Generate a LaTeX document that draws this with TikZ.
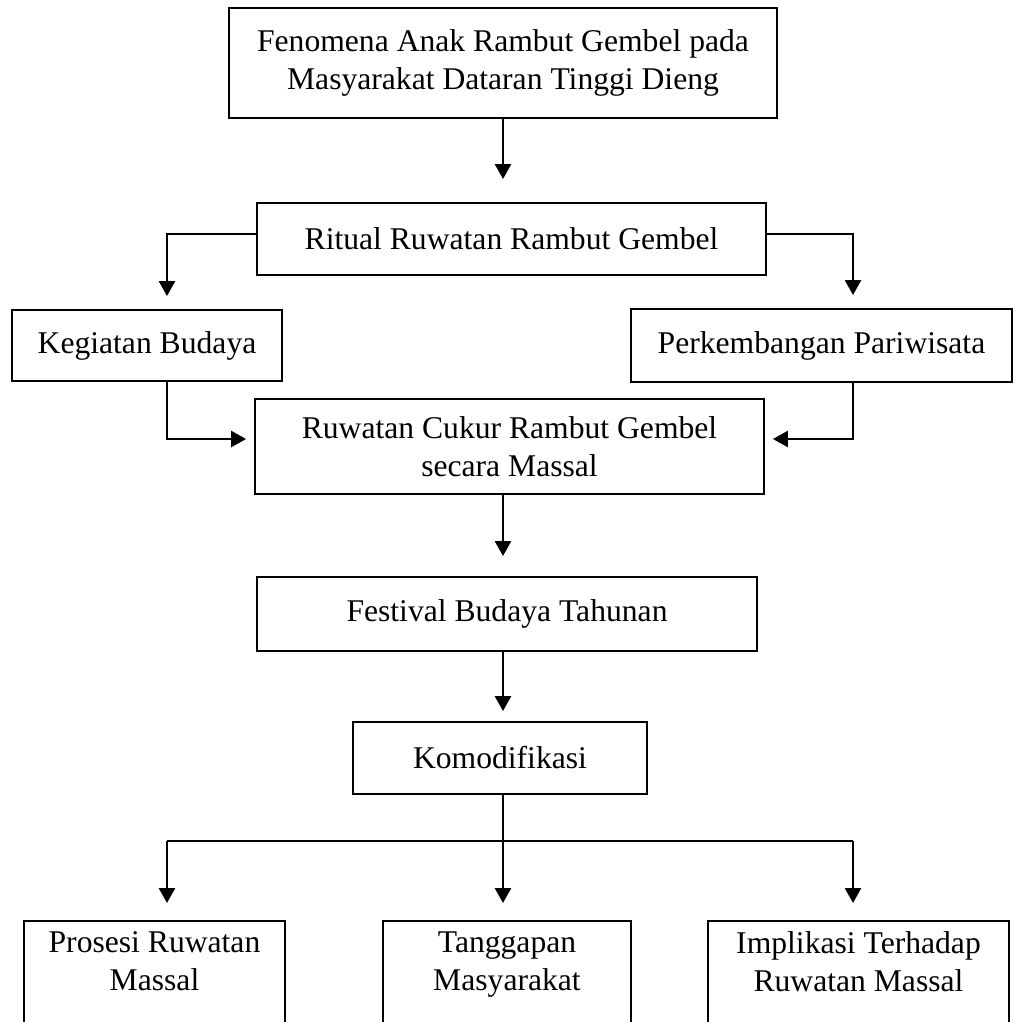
\documentclass[tikz,border=0pt]{standalone}
\usepackage{fontspec}
\setmainfont{Liberation Serif}
\usetikzlibrary{arrows.meta}

\begin{document}
\begin{tikzpicture}[x=0.02cm, y=-0.02cm,
  kotak/.style={draw, line width=1.1pt, rectangle, align=center, inner sep=0pt,
    font=\fontsize{18}{21.5}\selectfont},
  kotakbawah/.style={kotak, anchor=north, inner ysep=0.22cm, text depth=2.5cm},
  panah/.style={line width=1.5pt, -{Triangle[width=0.32cm, length=0.3cm]}},
  garis/.style={line width=1.5pt}]
  \useasboundingbox (0,0) rectangle (1024,1021);
  \clip (0,0) rectangle (1024,1021);

  % ---- kotak: alur atas ----
  \node[kotak, minimum width=10.96cm, minimum height=2.2cm] (fenomena) at (503,63)
    {Fenomena Anak Rambut Gembel pada\\Masyarakat Dataran Tinggi Dieng};
  \node[kotak, minimum width=10.18cm, minimum height=1.44cm] (ritual) at (511.5,239)
    {Ritual Ruwatan Rambut Gembel};
  \node[kotak, minimum width=5.4cm, minimum height=1.42cm] (kegiatan) at (147,345.5)
    {Kegiatan Budaya};
  \node[kotak, minimum width=7.62cm, minimum height=1.46cm] (perkembangan) at (821.5,345.5)
    {Perkembangan Pariwisata};
  \node[kotak, minimum width=10.18cm, minimum height=1.9cm] (ruwatan) at (509.5,446.5)
    {Ruwatan Cukur Rambut Gembel\\secara Massal};
  \node[kotak, minimum width=10cm, minimum height=1.48cm] (festival) at (507,614)
    {Festival Budaya Tahunan};
  \node[kotak, minimum width=5.88cm, minimum height=1.44cm] (komodifikasi) at (500,758)
    {Komodifikasi};

  % ---- kotak: cabang bawah ----
  \node[kotakbawah, minimum width=5.22cm] (prosesi) at (154.5,920)
    {Prosesi Ruwatan\\Massal};
  \node[kotakbawah, minimum width=4.96cm] (tanggapan) at (507,920)
    {Tanggapan\\Masyarakat};
  \node[kotakbawah, minimum width=6.02cm] (implikasi) at (858.5,920)
    {Implikasi Terhadap\\Ruwatan Massal};

  % ---- jalur penghubung ----
  \coordinate (tengah) at (503,0);
  \coordinate (kiri) at (167,0);
  \coordinate (kanan) at (853,0);
  \coordinate (cabang) at (503,841);

  \draw[panah, shorten >=0.46cm] (tengah |- fenomena.south) -- (tengah |- ritual.north);
  \draw[panah, shorten >=0.26cm] ([yshift=0.1cm]ritual.west) -| (kiri |- kegiatan.north);
  \draw[panah, shorten >=0.26cm] ([yshift=0.1cm]ritual.east) -| (kanan |- perkembangan.north);
  \draw[panah, shorten >=0.16cm] (kiri |- kegiatan.south) |- ([yshift=0.15cm]ruwatan.west);
  \draw[panah, shorten >=0.16cm] (kanan |- perkembangan.south) |- ([yshift=0.15cm]ruwatan.east);
  \draw[panah, shorten >=0.4cm] (tengah |- ruwatan.south) -- (tengah |- festival.north);
  \draw[panah, shorten >=0.2cm] (tengah |- festival.south) -- (tengah |- komodifikasi.north);

  \draw[garis] (tengah |- komodifikasi.south) -- (cabang);
  \draw[garis] (kiri |- cabang) -- (kanan |- cabang);
  \draw[panah, shorten >=0.34cm] (kiri |- cabang) -- (kiri |- prosesi.north);
  \draw[panah, shorten >=0.34cm] (cabang) -- (tengah |- tanggapan.north);
  \draw[panah, shorten >=0.34cm] (kanan |- cabang) -- (kanan |- implikasi.north);
\end{tikzpicture}
\end{document}
